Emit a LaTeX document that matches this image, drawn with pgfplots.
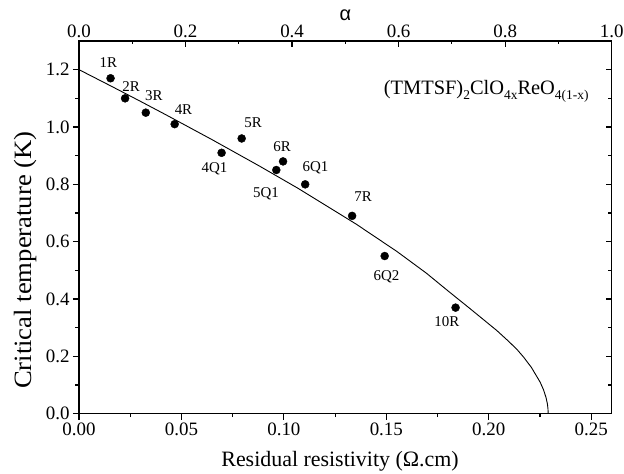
\documentclass[border=0pt]{standalone}
\usepackage{fontspec}
\setmainfont{Liberation Serif}
\newfontfamily\sansalpha{Liberation Sans}
\usepackage{pgfplots}
\pgfplotsset{compat=1.18}
\newcommand\sub[1]{\raisebox{-5bp}{\fontsize{13.5}{14}\selectfont #1}}
\begin{document}
\begin{tikzpicture}
\pgfplotsset{
 common/.style={
  at={(0,0)}, anchor=south west,
  scale only axis, width=532.7bp, height=372.7bp,
  ymin=0, ymax=1.3,
  axis line style={line width=1.5bp},
  major tick length=6bp, minor tick length=3.5bp,
  every tick/.style={black, line width=1.2bp},
  /pgf/number format/assume math mode=true,
  tick label style={font=\fontsize{19}{21}\selectfont},
  label style={font=\fontsize{22}{24}\selectfont},
  ytick={0,0.2,0.4,0.6,0.8,1.0,1.2},
  minor y tick num=1,
  minor x tick num=1,
 }
}
\begin{axis}[common,
  xmin=0, xmax=0.26,
  xtick={0,0.05,0.1,0.15,0.2,0.25},
  xtick pos=left, ytick pos=left,
  tick align=outside,
  xticklabel style={/pgf/number format/.cd, fixed, fixed zerofill, precision=2},
  yticklabel style={/pgf/number format/.cd, fixed, fixed zerofill, precision=1},
  xlabel={Residual resistivity (Ω.cm)},
  ylabel={Critical temperature (K)},
  xlabel style={at={(axis description cs:0.49,-0.128)}, anchor=center},
  ylabel style={font=\fontsize{25}{27}\selectfont, xscale=1.07,
    at={(axis description cs:-0.0995,0.412)}, anchor=center},
]
\addplot[black, line width=0.9bp, no markers] coordinates {
(0,1.2)
(0.015543,1.14316)
(0.02966,1.0908)
(0.042514,1.04231)
(0.06497,0.95578)
(0.088081,0.86379)
(0.10689,0.78618)
(0.135229,0.6615)
(0.15514,0.566)
(0.169583,0.490)
(0.18033,0.427)
(0.188520,0.380)
(0.19488,0.343)
(0.20394,0.290)
(0.209910,0.251)
(0.21403,0.222)
(0.216979,0.1975)
(0.22080,0.1615)
(0.22508,0.110)
(0.22673,0.0833)
(0.22797,0.0559)
(0.22863,0.0336)
(0.22890,0.0168)
(0.229,0)
};
\addplot[only marks, mark=*, mark size=4bp, black] coordinates {
(0.0154,1.17)(0.0225,1.10)(0.0326,1.05)(0.0467,1.01)(0.0696,0.91)(0.0794,0.96)
(0.0963,0.85)(0.0996,0.88)(0.1104,0.80)(0.1333,0.69)(0.1492,0.55)(0.1838,0.37)};
\begin{scope}[every node/.style={font=\fontsize{15}{16}\selectfont, inner sep=0pt}]
\node at (axis cs:0.01433,1.2234) {1R};
\node at (axis cs:0.02543,1.1417) {2R};
\node at (axis cs:0.03653,1.1092) {3R};
\node at (axis cs:0.0510,1.0603) {4R};
\node at (axis cs:0.06616,0.8533) {4Q1};
\node at (axis cs:0.08494,1.0139) {5R};
\node at (axis cs:0.09912,0.9301) {6R};
\node at (axis cs:0.0913,0.766) {5Q1};
\node at (axis cs:0.1154,0.8589) {6Q1};
\node at (axis cs:0.1387,0.7576) {7R};
\node at (axis cs:0.1501,0.4762) {6Q2};
\node at (axis cs:0.1795,0.3212) {10R};
\end{scope}
\node[anchor=base west, inner sep=0pt, font=\fontsize{20.5}{22}\selectfont] at (axis cs:0.1487,1.113)
 {(TMTSF)\sub{2}ClO\sub{4x}ReO\sub{4(1-x)}};
\end{axis}
\begin{axis}[common,
  xmin=0, xmax=1,
  xtick={0,0.2,0.4,0.6,0.8,1.0},
  xtick pos=right, ytick pos=right,
  xticklabel pos=right,
  tick align=inside,
  yticklabels={},
  xticklabel style={/pgf/number format/.cd, fixed, fixed zerofill, precision=1},
  xlabel={\sansalpha α},
  xlabel style={font=\fontsize{20}{22}\selectfont, yshift=-3bp},
]
\end{axis}
\pgfresetboundingbox
\path (-79bp,-60.3bp) rectangle (545bp,413.7bp);
\end{tikzpicture}
\end{document}
